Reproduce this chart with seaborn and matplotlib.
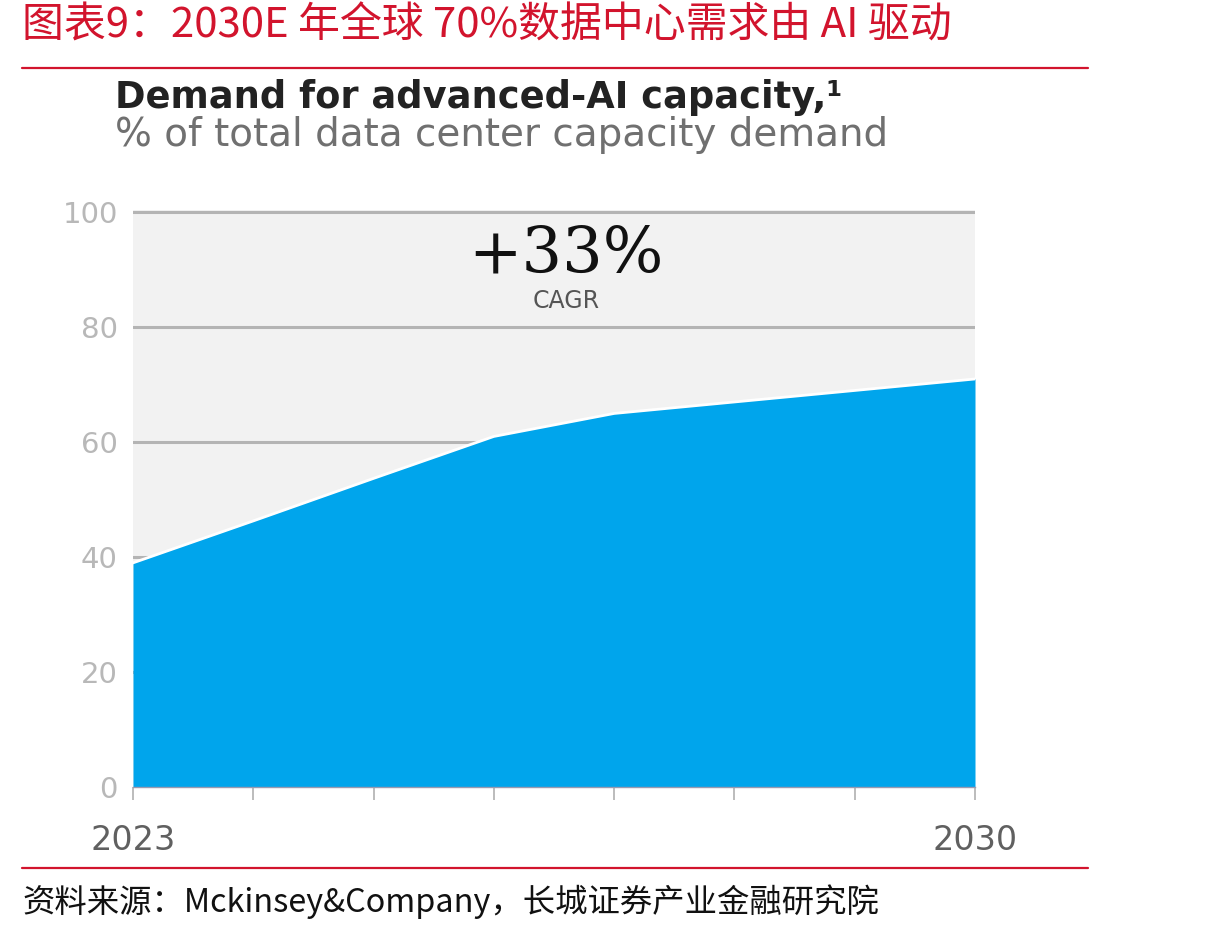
import matplotlib
matplotlib.use("Agg")
import matplotlib.pyplot as plt
import seaborn as sns
import pandas as pd

# 数据
years = [2023, 2024, 2025, 2026, 2027, 2028, 2029, 2030]
ai_share = [39, 46.3, 53.7, 61, 65, 67, 69, 71]
y_ticks = [0, 20, 40, 60, 80, 100]
x_labels = ["2023", "", "", "", "", "", "", "2030"]

title_text = "图表9：2030E 年全球 70%数据中心需求由 AI 驱动"
source_text = "资料来源：Mckinsey&Company，长城证券产业金融研究院"
chart_title = "Demand for advanced-AI capacity,\u00b9"
chart_subtitle = "% of total data center capacity demand"

df = pd.DataFrame({"year": years, "share": ai_share})

sns.set_theme(style="white")
plt.rcParams["font.family"] = ["DejaVu Sans", "Noto Sans CJK SC"]

red = "#d2142d"
blue = "#00a5ec"

fig = plt.figure(figsize=(12.1, 9.33), dpi=100)
ax = fig.add_axes([133 / 1210, 1 - 787 / 933, 842 / 1210, 577 / 933])
ax.set_facecolor("#f2f2f2")

# 网格线
for v in y_ticks[1:]:
    ax.axhline(v, color="#b4b4b4", lw=2.2, zorder=1)

ax.fill_between(df["year"], df["share"], 0, color=blue, lw=0, zorder=2)
sns.lineplot(data=df, x="year", y="share", color="white", lw=2, ax=ax, zorder=3)

ax.set_xlim(2023, 2030)
ax.set_ylim(0, 100.4)
ax.set_xticks(years)
ax.set_xticklabels(x_labels)
ax.set_yticks(y_ticks)
ax.set_xlabel("")
ax.set_ylabel("")
ax.tick_params(axis="y", length=0, pad=11, labelsize=21, labelcolor="#b8b8b8")
ax.tick_params(axis="x", length=9, width=1.2, color="#b0b0b0", direction="out",
               pad=18, labelsize=24, labelcolor="#606060", bottom=True)
for s in ["top", "right", "left"]:
    ax.spines[s].set_visible(False)
ax.spines["bottom"].set_color("#9a9ab0")
ax.spines["bottom"].set_linewidth(1)

# 年复合增长率标注
ax.text(2026.6, 92.5, "+33%", ha="center", va="center", fontsize=46,
        family="DejaVu Serif", color="#111111", zorder=4)
ax.text(2026.6, 84.5, "CAGR", ha="center", va="center", fontsize=17,
        color="#555555", zorder=4)

# 图内标题
fig.text(115 / 1210, 1 - 98 / 933, chart_title, ha="left", va="center",
         fontsize=26.5, fontweight="bold", color="#222222")
fig.text(115 / 1210, 1 - 135 / 933, chart_subtitle, ha="left", va="center",
         fontsize=28, color="#707070")

# 报告标题与来源
fig.text(22 / 1210, 1 - 26 / 933, title_text, ha="left", va="center",
         fontsize=30.2, style="italic", color=red,
         family=["Noto Sans CJK SC", "DejaVu Sans"])
fig.add_artist(plt.Line2D([22 / 1210, 1088 / 1210], [1 - 68 / 933] * 2,
                          color=red, lw=1.6))
fig.add_artist(plt.Line2D([22 / 1210, 1088 / 1210], [1 - 868 / 933] * 2,
                          color=red, lw=1.6))
fig.text(22 / 1210, 1 - 902 / 933, source_text, ha="left", va="center",
         fontsize=23.3, style="italic", color="#111111",
         family=["Noto Sans CJK SC", "DejaVu Sans"])

fig.savefig("out.png", dpi=100)
